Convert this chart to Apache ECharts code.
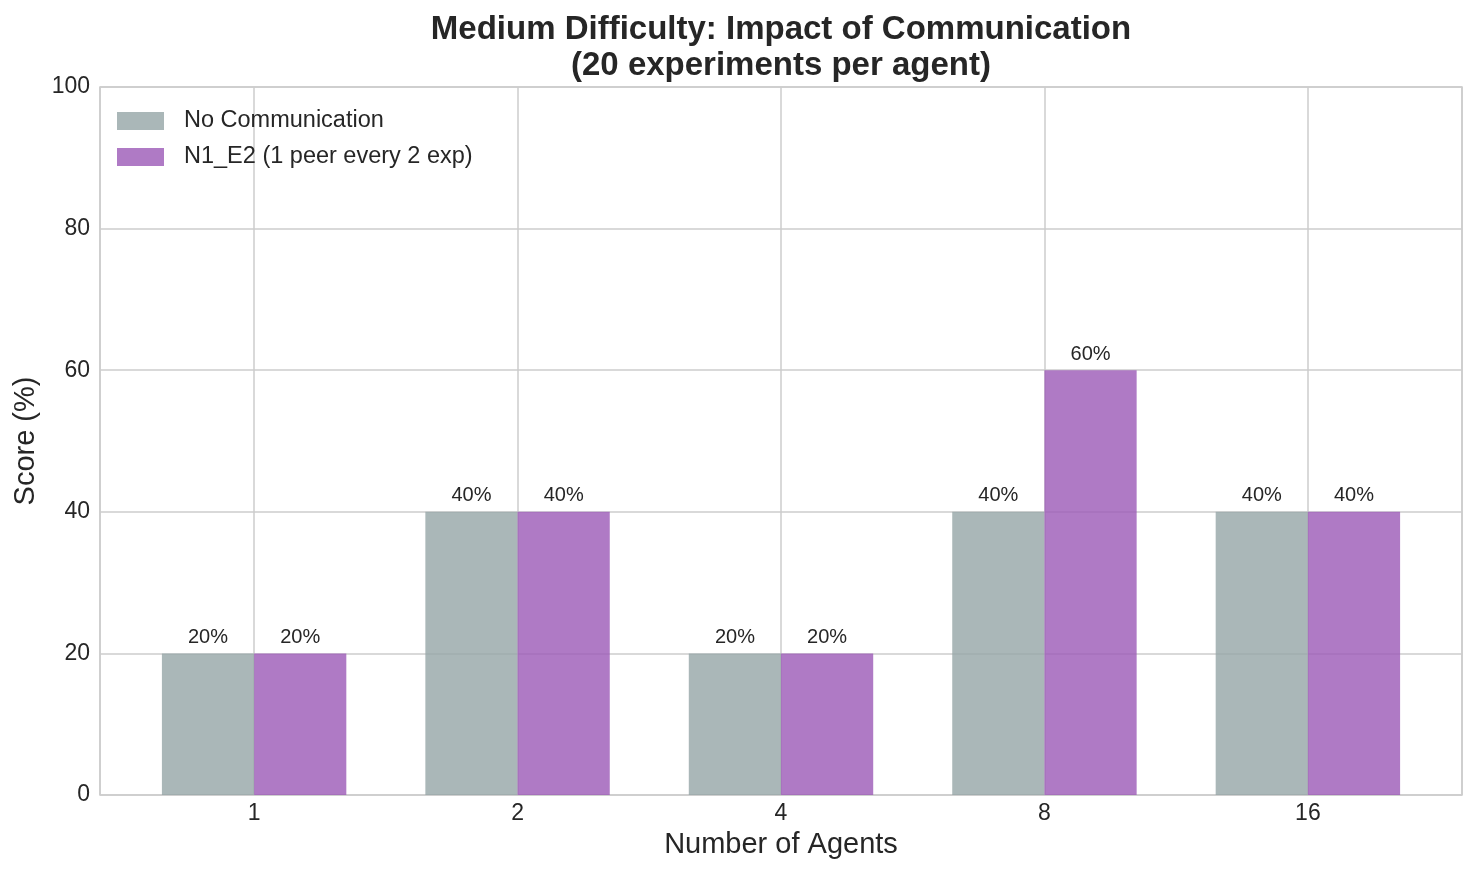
<!DOCTYPE html>
<html>
<head>
<meta charset="utf-8">
<script src="https://cdn.jsdelivr.net/npm/echarts@6/dist/echarts.min.js"></script>
<style>
html,body{margin:0;padding:0;background:#fff;}
#chart{width:1476px;height:877px;}
</style>
</head>
<body>
<div id="chart"></div>
<script>
const categories = ['1', '2', '4', '8', '16'];
const noComm = [20, 40, 20, 40, 40];
const n1e2 = [20, 40, 20, 60, 40];
const yTicks = [0, 20, 40, 60, 80, 100];

const chart = echarts.init(document.getElementById('chart'));
const font = 'Arial, "Liberation Sans", Helvetica, sans-serif';
const gridColor = '#cccccc';

function mk(vals) { return vals.map((v, i) => [i, v]); }

const labelCfg = {
  show: true, position: 'top', distance: 6,
  formatter: p => p.value[1] + '%',
  color: '#262626', fontSize: 20, fontFamily: font
};

chart.setOption({
  animation: false,
  title: {
    text: 'Medium Difficulty: Impact of Communication\n(20 experiments per agent)',
    left: 781, top: 12, textAlign: 'center', padding: 0,
    textStyle: { fontSize: 33, fontWeight: 'bold', color: '#262626', fontFamily: font, lineHeight: 36 }
  },
  legend: {
    left: 117, top: 109, padding: 0, orient: 'vertical', itemWidth: 47, itemHeight: 18, itemGap: 12,
    icon: 'rect',
    textStyle: { fontSize: 23.5, lineHeight: 24, color: '#262626', fontFamily: font, padding: [0, 0, 0, 15] },
    data: ['No Communication', 'N1_E2 (1 peer every 2 exp)']
  },
  grid: { left: 100, right: 14, top: 87, bottom: 82, show: true, borderColor: gridColor, borderWidth: 1.5 },
  xAxis: {
    type: 'value', min: -0.585, max: 4.585,
    name: 'Number of Agents', nameLocation: 'middle', nameGap: 35,
    nameTextStyle: { fontSize: 29, color: '#262626', fontFamily: font },
    axisLine: { show: false }, axisTick: { show: false },
    axisLabel: {
      customValues: [0, 1, 2, 3, 4],
      formatter: v => categories[Math.round(v)] || '',
      fontSize: 23, color: '#262626', fontFamily: font, margin: 7
    },
    splitLine: { show: true, lineStyle: { color: gridColor, width: 1.5 } }
  },
  yAxis: {
    type: 'value', min: 0, max: 100, interval: 20,
    name: 'Score (%)', nameLocation: 'middle', nameGap: 58,
    nameTextStyle: { fontSize: 29, color: '#262626', fontFamily: font },
    axisLine: { show: false }, axisTick: { show: false },
    axisLabel: { fontSize: 23, color: '#262626', fontFamily: font, margin: 10,
      formatter: v => yTicks.includes(v) ? String(v) : '' },
    splitLine: { show: true, lineStyle: { color: gridColor, width: 1.5 } }
  },
  series: [
    {
      name: 'No Communication', type: 'bar', data: mk(noComm),
      barWidth: '35%', barGap: '0%',
      itemStyle: { color: 'rgba(149,165,166,0.8)' },
      label: labelCfg
    },
    {
      name: 'N1_E2 (1 peer every 2 exp)', type: 'bar', data: mk(n1e2),
      barWidth: '35%', barGap: '0%',
      itemStyle: { color: 'rgba(155,89,182,0.8)' },
      label: labelCfg
    }
  ]
});
</script>
</body>
</html>
